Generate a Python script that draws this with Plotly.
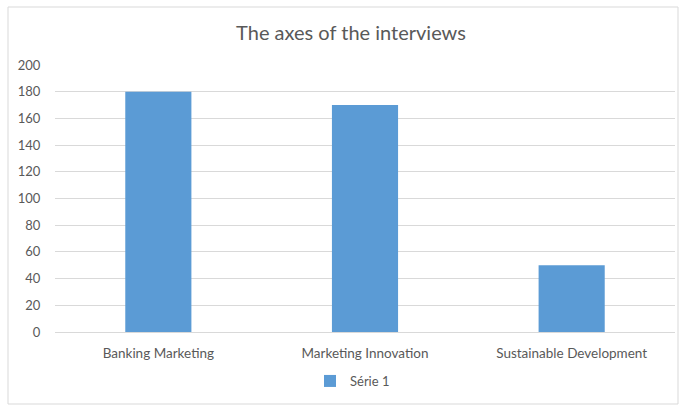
import plotly.graph_objects as go

categories = ["Banking Marketing", "Marketing Innovation", "Sustainable Development"]
values = [180, 170, 50]
series_name = "Série 1"
y_ticks = [0, 20, 40, 60, 80, 100, 120, 140, 160, 180, 200]

font_family = "Lato, 'Open Sans', sans-serif"
gray = "#595959"

fig = go.Figure()
fig.add_trace(go.Bar(
    x=categories, y=values, name=series_name,
    marker=dict(color="#5B9BD5", line=dict(width=0)),
    width=0.32, showlegend=True,
))

fig.update_layout(
    width=681, height=406,
    margin=dict(l=55, r=6, t=65, b=74),
    paper_bgcolor="white", plot_bgcolor="white",
    font=dict(family=font_family, size=13, color=gray),
    title=dict(text="The axes of the interviews", x=351/681, xanchor="center",
               y=1 - 33/406, yanchor="middle",
               font=dict(size=20, color=gray, family=font_family)),
    showlegend=True,
    legend=dict(orientation="h", x=(310-55)/620, xanchor="left",
                y=(332-381)/267, yanchor="middle",
                font=dict(size=13, color=gray), itemwidth=30,
                bgcolor="rgba(0,0,0,0)"),
    bargap=0.68,
)
fig.update_yaxes(range=[0, 200], tickvals=y_ticks, showgrid=True,
                 gridcolor="#d9d9d9", gridwidth=1, zeroline=False,
                 showline=False, ticks="outside", ticklen=11,
                 tickcolor="rgba(0,0,0,0)", tickfont=dict(size=13, color=gray),
                 fixedrange=True)
fig.update_xaxes(showgrid=False, showline=True, linecolor="#d9d9d9", linewidth=1,
                 ticks="outside", ticklen=9, tickcolor="rgba(0,0,0,0)",
                 tickfont=dict(size=13.5, color=gray))

fig.add_shape(type="rect", xref="paper", yref="paper",
              x0=(8-55)/620, x1=(678-55)/620,
              y0=(332-404)/267, y1=(332-7)/267,
              line=dict(color="#d9d9d9", width=1), fillcolor="rgba(0,0,0,0)",
              layer="below")

fig.write_html("out.html")
